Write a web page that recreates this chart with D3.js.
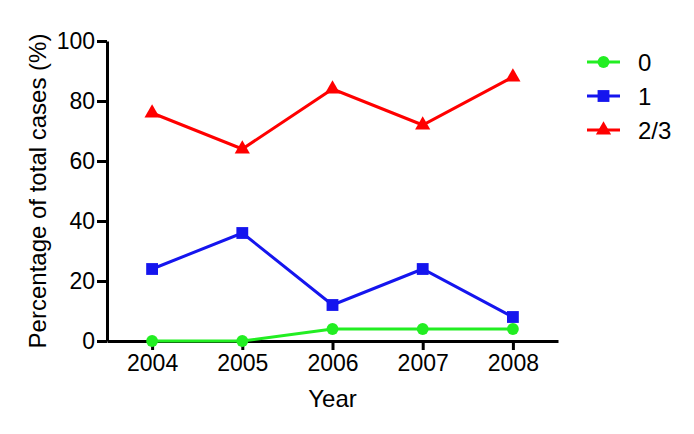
<!DOCTYPE html>
<html>
<head>
<meta charset="utf-8">
<script src="https://cdn.jsdelivr.net/npm/d3@7"></script>
<style>
  body { margin: 0; background: #fff; }
  text { font-family: "Liberation Sans", Arial, sans-serif; fill: #000; }
</style>
</head>
<body>
<div id="chart"></div>
<script>
// Chart data
const years = [2004, 2005, 2006, 2007, 2008];
const yTicks = [0, 20, 40, 60, 80, 100];
const seriesNames = ['0', '1', '2/3'];
const values0 = [0, 0, 4, 4, 4];
const values1 = [24, 36, 12, 24, 8];
const values23 = [76, 64, 84, 72, 88];

const colors = ['#22ee22', '#1515ee', '#ff0000'];
const shapes = [d3.symbolCircle, d3.symbolSquare, d3.symbolTriangle];
const sizes = [110, 140, 100];

const series = [values0, values1, values23].map((vals, i) => ({
    name: seriesNames[i],
    color: colors[i],
    shape: shapes[i],
    size: sizes[i],
    values: vals.map((v, j) => ({year: years[j], value: v}))
}));

const W = 694, H = 434;
const margin = {top: 41, left: 107, right: 136, bottom: 93};

const svg = d3.select('#chart')
    .append('svg')
    .attr('width', W)
    .attr('height', H);

const x = d3.scaleLinear()
    .domain([2003.5, 2008.5])
    .range([margin.left, W - margin.right]);

const y = d3.scaleLinear()
    .domain([0, 100])
    .range([H - margin.bottom, margin.top]);

// Axes
const xAxis = svg.append('g')
    .attr('transform', `translate(0,${H - margin.bottom})`)
    .call(d3.axisBottom(x).tickValues(years).tickFormat(d3.format('d')).tickSize(9).tickSizeOuter(0).tickPadding(5));

const yAxis = svg.append('g')
    .attr('transform', `translate(${margin.left},0)`)
    .call(d3.axisLeft(y).tickValues(yTicks).tickSize(10).tickSizeOuter(0).tickPadding(2));

[xAxis, yAxis].forEach(g => {
    g.select('.domain').attr('stroke', '#000').attr('stroke-width', 3);
    g.selectAll('.tick line').attr('stroke', '#000').attr('stroke-width', 3);
    g.selectAll('.tick text').style('font-size', '23px').attr('fill', '#000');
});

// Axis titles
svg.append('text')
    .attr('x', x(2006))
    .attr('y', 407)
    .attr('text-anchor', 'middle')
    .style('font-size', '24px')
    .text('Year');

svg.append('text')
    .attr('transform', `translate(46,191) rotate(-90)`)
    .attr('text-anchor', 'middle')
    .style('font-size', '24px')
    .text('Percentage of total cases (%)');

// Lines and markers
const line = d3.line()
    .x(d => x(d.year))
    .y(d => y(d.value));

series.forEach(s => {
    svg.append('path')
        .datum(s.values)
        .attr('fill', 'none')
        .attr('stroke', s.color)
        .attr('stroke-width', 3)
        .attr('d', line);

    svg.selectAll(null)
        .data(s.values)
        .enter().append('path')
        .attr('transform', d => `translate(${x(d.year)},${y(d.value)})`)
        .attr('d', d3.symbol().type(s.shape).size(s.size))
        .attr('fill', s.color);
});

// Legend
const legend = svg.append('g')
    .attr('transform', 'translate(587,62)');

series.forEach((s, i) => {
    const row = legend.append('g')
        .attr('transform', `translate(0,${i * 34})`);
    row.append('line')
        .attr('x1', 0).attr('x2', 33)
        .attr('stroke', s.color)
        .attr('stroke-width', 3);
    row.append('path')
        .attr('transform', 'translate(16.5,0)')
        .attr('d', d3.symbol().type(s.shape).size(s.size))
        .attr('fill', s.color);
    row.append('text')
        .attr('x', 51)
        .attr('y', 9)
        .style('font-size', '24px')
        .text(s.name);
});
</script>
</body>
</html>
